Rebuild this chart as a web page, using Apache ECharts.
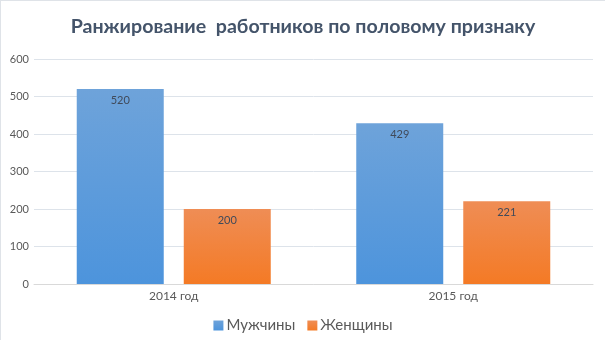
<!DOCTYPE html>
<html>
<head>
<meta charset="utf-8">
<script src="https://cdn.jsdelivr.net/npm/echarts@6/dist/echarts.min.js"></script>
<style>
  html, body { margin: 0; padding: 0; background: #fff; }
  #chart { width: 605px; height: 340px; box-sizing: border-box; border-left: 1px solid #dfe3e8; border-top: 1px solid #dfe3e8; }
</style>
</head>
<body>
<div id="chart"></div>
<script>
const titleText = 'Ранжирование  работников по половому признаку';
const categories = ['2014 год', '2015 год'];
const seriesNames = ['Мужчины', 'Женщины'];
const menValues = [520, 429];
const womenValues = [200, 221];
const yTicks = [0, 100, 200, 300, 400, 500, 600];

const chart = echarts.init(document.getElementById('chart'), null, { renderer: 'canvas' });

function grad(top, bottom) {
  return new echarts.graphic.LinearGradient(0, 0, 0, 1, [
    { offset: 0, color: top },
    { offset: 1, color: bottom }
  ]);
}

const labelStyle = {
  show: true,
  position: 'insideTop',
  distance: 6,
  color: '#404a5a',
  fontFamily: 'Lato',
  fontSize: 11
};

chart.setOption({
  animation: false,
  title: {
    text: titleText,
    left: 'center',
    top: 11,
    textStyle: { fontFamily: 'Lato', fontWeight: 'bold', fontSize: 19.6, color: '#44546a' }
  },
  legend: {
    bottom: 2,
    left: 'center',
    itemWidth: 10,
    itemHeight: 10,
    itemGap: 12,
    icon: 'rect',
    textStyle: { fontFamily: 'Lato', fontSize: 15, color: '#595959', padding: [0, 0, 0, -2] },
    data: seriesNames
  },
  grid: { left: 33, right: 12, top: 58, bottom: 56 },
  xAxis: {
    type: 'category',
    data: categories,
    axisLine: { lineStyle: { color: '#d9d9d9' } },
    axisTick: { show: false },
    axisLabel: { fontFamily: 'Lato', fontSize: 12, color: '#595959', margin: 6 }
  },
  yAxis: {
    type: 'value',
    min: yTicks[0],
    max: yTicks[yTicks.length - 1],
    interval: 100,
    axisLine: { show: false },
    axisTick: { show: false },
    splitLine: { lineStyle: { color: '#dde3ea' } },
    axisLabel: { fontFamily: 'Lato', fontSize: 11, color: '#595959', margin: 5 }
  },
  series: [
    {
      name: seriesNames[0],
      type: 'bar',
      data: menValues,
      barWidth: 87,
      barGap: '23%',
      itemStyle: { color: grad('#6ea3da', '#4d94dc') },
      label: labelStyle
    },
    {
      name: seriesNames[1],
      type: 'bar',
      data: womenValues,
      barWidth: 87,
      itemStyle: { color: grad('#ef8d55', '#f47a25') },
      label: labelStyle
    }
  ]
});
</script>
</body>
</html>
